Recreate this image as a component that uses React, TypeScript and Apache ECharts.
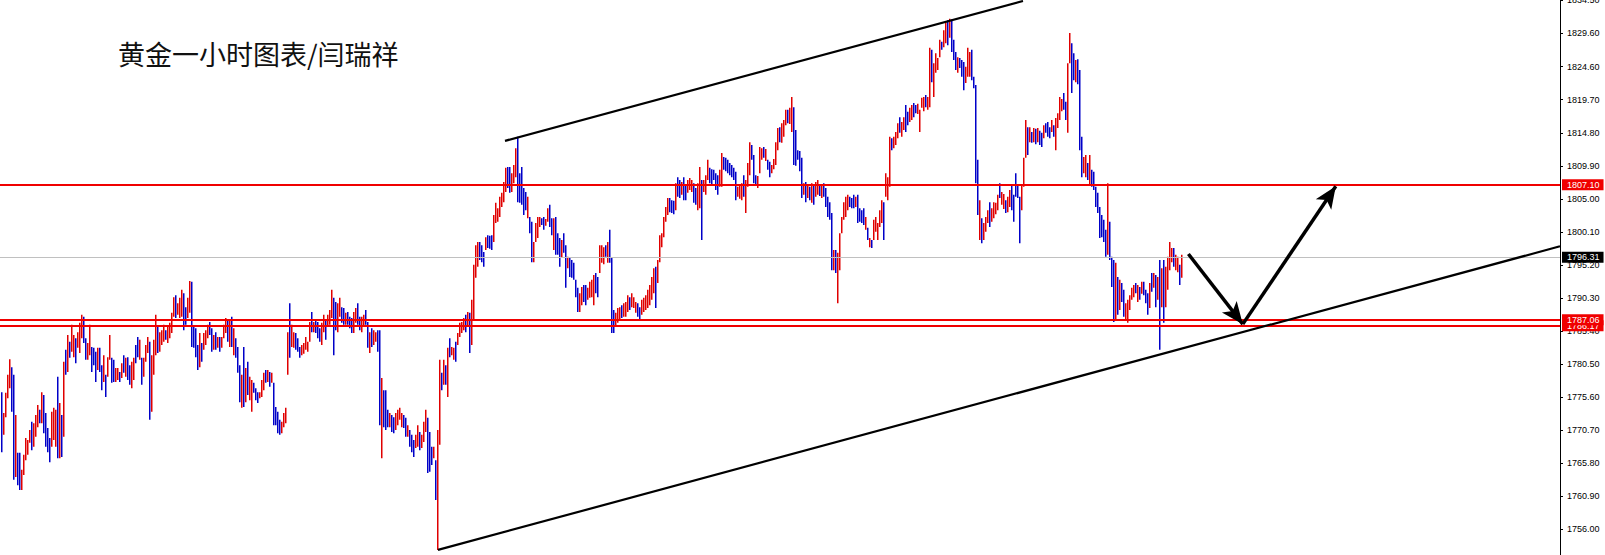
import React, { useEffect, useRef } from "react";
import * as echarts from "echarts";

// ---- Data (hourly gold bars) ----
const HIGH = [
  1776.3, 1773.2, 1776.2, 1778.9, 1781.2, 1780.0, 1778.9, 1772.9, 1767.3, 1767.3,
  1764.8, 1767.0, 1769.5, 1769.2, 1770.7, 1771.9, 1771.7, 1772.9, 1774.4, 1773.7,
  1776.3, 1775.9, 1773.2, 1771.0, 1769.5, 1773.4, 1774.0, 1773.7, 1778.6, 1774.7,
  1772.9, 1780.8, 1782.6, 1784.8, 1783.8, 1786.3, 1784.8, 1784.3, 1785.2, 1786.6,
  1787.8, 1787.5, 1784.3, 1783.6, 1786.3, 1783.0, 1782.9, 1782.3, 1782.9, 1782.9,
  1780.3, 1781.8, 1778.9, 1781.5, 1784.8, 1781.4, 1781.1, 1779.9, 1779.9, 1779.3,
  1780.6, 1781.8, 1781.4, 1781.5, 1780.3, 1780.8, 1781.4, 1783.3, 1784.5, 1784.1,
  1781.4, 1781.4, 1783.3, 1784.5, 1783.8, 1781.8, 1784.1, 1787.8, 1786.0, 1785.2,
  1785.5, 1786.3, 1785.5, 1786.0, 1786.6, 1788.1, 1790.4, 1790.7, 1789.5, 1790.3,
  1791.5, 1791.0, 1788.9, 1790.3, 1792.8, 1792.7, 1786.0, 1785.8, 1783.3, 1785.1,
  1783.6, 1785.1, 1785.5, 1786.3, 1786.7, 1785.8, 1784.8, 1785.2, 1784.5, 1784.5,
  1784.5, 1786.3, 1787.3, 1787.0, 1787.0, 1787.5, 1785.8, 1784.3, 1783.0, 1780.3,
  1778.9, 1783.0, 1779.9, 1780.8, 1778.6, 1778.1, 1777.7, 1776.9, 1776.3, 1776.3,
  1778.1, 1779.2, 1779.6, 1779.6, 1779.3, 1779.2, 1777.7, 1774.1, 1773.4, 1772.2,
  1771.9, 1773.2, 1774.0, 1785.2, 1789.5, 1786.3, 1785.2, 1785.1, 1784.3, 1783.0,
  1783.3, 1783.6, 1784.5, 1783.8, 1786.7, 1788.2, 1786.7, 1787.0, 1786.7, 1785.8,
  1786.6, 1787.8, 1787.0, 1787.8, 1788.5, 1791.5, 1790.3, 1789.7, 1789.5, 1790.3,
  1788.9, 1788.8, 1788.1, 1788.2, 1787.5, 1787.3, 1788.2, 1788.8, 1789.5, 1787.5,
  1787.5, 1787.8, 1788.5, 1786.7, 1785.2, 1785.8, 1785.5, 1785.2, 1785.5, 1785.5,
  1778.4, 1776.6, 1776.6, 1773.7, 1773.2, 1772.9, 1772.6, 1773.2, 1773.7, 1774.0,
  1773.2, 1772.9, 1772.5, 1771.4, 1770.7, 1770.0, 1769.2, 1770.0, 1771.4, 1770.4,
  1770.0, 1771.9, 1773.7, 1772.5, 1770.4, 1768.2, 1768.2, 1766.2, 1770.7, 1781.1,
  1779.2, 1781.1, 1780.3, 1782.9, 1784.3, 1783.0, 1782.9, 1783.8, 1785.1, 1786.6,
  1786.7, 1787.3, 1787.8, 1788.2, 1788.1, 1790.0, 1795.2, 1798.1, 1798.6, 1798.6,
  1798.1, 1797.1, 1799.3, 1799.6, 1799.5, 1799.6, 1802.6, 1804.4, 1803.6, 1805.3,
  1805.9, 1807.5, 1809.6, 1809.7, 1809.7, 1808.8, 1810.0, 1812.5, 1814.2, 1808.8,
  1809.7, 1806.6, 1806.0, 1805.3, 1802.3, 1801.6, 1798.6, 1801.4, 1802.3, 1802.3,
  1802.1, 1802.3, 1802.0, 1803.6, 1804.1, 1802.1, 1802.1, 1802.3, 1799.9, 1799.2,
  1798.9, 1799.9, 1798.1, 1796.4, 1796.2, 1795.9, 1795.5, 1793.0, 1791.8, 1791.0,
  1791.9, 1792.2, 1792.2, 1791.8, 1792.7, 1793.0, 1793.7, 1794.0, 1793.4, 1798.1,
  1798.1, 1797.8, 1798.1, 1798.6, 1800.4, 1796.2, 1788.5, 1788.1, 1788.8, 1788.9,
  1789.2, 1789.5, 1789.7, 1790.7, 1790.4, 1791.0, 1790.4, 1789.7, 1789.5, 1788.9,
  1790.0, 1790.3, 1790.7, 1791.5, 1792.2, 1793.4, 1794.7, 1794.9, 1795.9, 1799.6,
  1799.9, 1802.3, 1803.8, 1805.1, 1805.1, 1804.8, 1804.7, 1807.3, 1808.2, 1807.8,
  1807.5, 1808.2, 1807.0, 1807.8, 1808.1, 1807.8, 1807.3, 1806.6, 1807.3, 1809.7,
  1807.8, 1807.8, 1808.5, 1810.8, 1809.6, 1809.4, 1809.3, 1808.8, 1808.5, 1809.3,
  1811.8, 1811.2, 1811.1, 1810.8, 1810.3, 1810.0, 1809.6, 1809.0, 1806.8, 1806.9,
  1807.3, 1808.5, 1807.8, 1810.3, 1813.4, 1813.0, 1811.5, 1808.5, 1808.4, 1812.7,
  1812.5, 1812.7, 1812.4, 1810.8, 1810.5, 1810.0, 1810.9, 1813.4, 1815.5, 1815.6,
  1816.2, 1816.7, 1818.2, 1818.2, 1818.5, 1820.1, 1818.6, 1815.2, 1812.2, 1812.1,
  1811.1, 1807.3, 1807.5, 1807.0, 1806.8, 1807.3, 1807.0, 1807.5, 1807.8, 1807.2,
  1807.0, 1807.3, 1806.6, 1805.3, 1804.5, 1802.9, 1797.4, 1797.4, 1797.0, 1799.9,
  1802.3, 1804.5, 1805.3, 1805.6, 1805.3, 1805.1, 1805.6, 1805.3, 1805.6, 1803.6,
  1803.3, 1803.6, 1802.3, 1800.7, 1799.2, 1798.9, 1801.9, 1802.3, 1801.4, 1803.3,
  1804.8, 1804.5, 1808.8, 1808.2, 1814.2, 1814.0, 1814.2, 1814.9, 1816.2, 1817.1,
  1816.4, 1817.1, 1818.9, 1817.9, 1818.5, 1818.9, 1819.2, 1818.9, 1819.1, 1818.2,
  1820.0, 1820.1, 1820.4, 1820.1, 1827.4, 1827.1, 1825.1, 1826.6, 1825.9, 1828.6,
  1828.3, 1830.0, 1831.2, 1831.5, 1831.7, 1831.6, 1828.6, 1826.8, 1826.0, 1825.9,
  1825.6, 1825.3, 1824.6, 1827.4, 1826.8, 1827.1, 1823.1, 1821.9, 1810.8, 1804.8,
  1802.1, 1801.4, 1802.3, 1803.3, 1804.5, 1803.6, 1804.5, 1804.4, 1805.6, 1807.3,
  1806.0, 1805.7, 1804.8, 1805.3, 1806.3, 1807.0, 1805.6, 1808.8, 1807.2, 1805.3,
  1807.0, 1811.1, 1816.7, 1815.6, 1815.6, 1814.9, 1815.5, 1815.4, 1815.5, 1815.1,
  1814.8, 1815.9, 1816.2, 1816.4, 1815.6, 1816.7, 1815.9, 1817.0, 1817.7, 1820.1,
  1819.8, 1820.7, 1819.4, 1825.1, 1829.6, 1828.1, 1826.6, 1825.6, 1825.7, 1824.1,
  1814.2, 1811.2, 1811.5, 1810.3, 1811.5, 1809.3, 1809.0, 1806.8, 1805.9, 1803.8,
  1802.6, 1801.9, 1800.4, 1807.3, 1801.6, 1796.4, 1795.9, 1795.5, 1793.4, 1793.0,
  1792.5, 1791.5, 1789.5, 1790.0, 1790.7, 1791.8, 1792.2, 1792.5, 1792.2, 1791.9,
  1792.7, 1792.7, 1791.5, 1791.0, 1792.5, 1794.0, 1794.0, 1793.7, 1793.4, 1795.9,
  1794.7, 1795.9, 1794.9, 1796.4, 1798.6, 1797.7, 1797.7, 1796.7, 1796.4, 1795.2,
  1796.7,
];

const LOW = [
  1767.4, 1770.0, 1772.6, 1775.4, 1776.9, 1773.4, 1763.3, 1763.7, 1762.5, 1761.8,
  1761.8, 1764.0, 1766.2, 1767.0, 1768.8, 1767.7, 1768.2, 1769.7, 1771.1, 1771.7,
  1771.7, 1770.2, 1768.2, 1767.4, 1765.9, 1768.2, 1769.2, 1768.2, 1766.5, 1766.5,
  1766.7, 1769.7, 1778.9, 1779.3, 1781.4, 1782.3, 1781.5, 1780.6, 1782.9, 1782.1,
  1784.3, 1783.6, 1781.1, 1781.1, 1781.8, 1779.3, 1780.3, 1777.8, 1779.6, 1779.3,
  1776.6, 1777.8, 1775.6, 1778.6, 1781.1, 1777.7, 1777.8, 1777.8, 1778.1, 1777.8,
  1778.4, 1779.2, 1778.6, 1778.1, 1777.4, 1776.9, 1778.1, 1780.6, 1781.5, 1781.1,
  1777.4, 1778.6, 1780.8, 1782.1, 1772.2, 1773.4, 1778.9, 1781.8, 1782.1, 1782.3,
  1783.3, 1783.8, 1784.1, 1783.6, 1784.3, 1785.1, 1787.5, 1787.3, 1787.8, 1787.3,
  1787.5, 1785.5, 1786.3, 1787.3, 1788.1, 1783.0, 1782.9, 1781.5, 1779.6, 1780.0,
  1780.8, 1782.6, 1783.3, 1784.3, 1784.8, 1782.3, 1782.6, 1782.6, 1782.9, 1782.3,
  1782.9, 1784.3, 1785.1, 1783.8, 1783.0, 1783.0, 1781.8, 1781.4, 1779.2, 1774.8,
  1774.0, 1774.1, 1774.8, 1775.9, 1775.1, 1773.4, 1776.2, 1775.1, 1774.7, 1775.4,
  1775.6, 1776.6, 1777.7, 1777.8, 1777.1, 1777.7, 1771.4, 1771.4, 1770.2, 1770.0,
  1770.2, 1771.1, 1771.7, 1778.9, 1781.4, 1783.0, 1782.9, 1782.6, 1782.3, 1781.4,
  1781.8, 1782.0, 1782.6, 1782.3, 1783.8, 1785.2, 1785.2, 1785.1, 1784.3, 1783.8,
  1783.3, 1785.2, 1784.1, 1786.0, 1786.3, 1787.3, 1781.8, 1785.5, 1785.2, 1787.5,
  1786.6, 1786.3, 1786.3, 1786.3, 1785.8, 1785.1, 1785.1, 1786.6, 1786.3, 1785.5,
  1785.2, 1786.0, 1786.3, 1782.9, 1782.1, 1783.0, 1783.3, 1783.8, 1782.3, 1771.4,
  1766.5, 1771.1, 1770.7, 1771.1, 1771.1, 1770.4, 1770.2, 1770.7, 1771.4, 1772.2,
  1771.1, 1771.0, 1769.7, 1769.7, 1768.2, 1767.4, 1766.7, 1768.0, 1768.2, 1767.7,
  1768.0, 1768.9, 1770.4, 1764.3, 1764.5, 1765.5, 1766.5, 1760.3, 1752.9, 1768.5,
  1776.6, 1777.4, 1777.4, 1775.6, 1781.5, 1781.8, 1781.1, 1780.8, 1783.3, 1784.5,
  1785.1, 1785.5, 1785.2, 1786.0, 1782.1, 1783.3, 1787.0, 1793.3, 1794.9, 1795.9,
  1795.6, 1794.9, 1797.4, 1797.7, 1797.6, 1797.4, 1798.6, 1801.4, 1801.6, 1802.3,
  1803.8, 1804.5, 1806.0, 1806.6, 1805.9, 1806.0, 1807.3, 1808.2, 1804.5, 1804.4,
  1804.1, 1802.6, 1803.3, 1802.1, 1799.9, 1795.6, 1795.6, 1798.6, 1799.2, 1800.8,
  1801.1, 1800.4, 1801.0, 1801.6, 1800.8, 1799.6, 1797.4, 1796.7, 1796.7, 1794.9,
  1796.2, 1797.0, 1791.8, 1794.7, 1793.4, 1793.3, 1793.0, 1790.4, 1788.2, 1788.2,
  1789.2, 1789.7, 1789.2, 1790.0, 1790.3, 1790.4, 1789.2, 1791.0, 1790.4, 1794.0,
  1795.5, 1795.3, 1796.4, 1795.5, 1795.5, 1785.1, 1785.1, 1786.0, 1786.6, 1787.0,
  1787.3, 1787.5, 1787.5, 1788.2, 1788.5, 1788.9, 1788.8, 1788.1, 1787.5, 1787.0,
  1787.8, 1788.2, 1788.5, 1788.8, 1789.2, 1790.0, 1791.0, 1788.8, 1792.5, 1795.6,
  1797.8, 1799.3, 1801.6, 1802.6, 1803.0, 1802.9, 1802.7, 1803.3, 1805.3, 1805.1,
  1805.6, 1804.8, 1804.8, 1805.9, 1806.3, 1806.0, 1804.4, 1804.1, 1803.3, 1803.6,
  1798.9, 1806.0, 1805.6, 1807.8, 1807.3, 1807.2, 1807.8, 1806.3, 1805.6, 1806.8,
  1806.8, 1809.3, 1809.1, 1808.8, 1808.5, 1808.2, 1807.8, 1804.8, 1805.3, 1805.0,
  1804.8, 1805.3, 1802.9, 1806.8, 1808.5, 1810.8, 1807.3, 1807.0, 1806.6, 1808.8,
  1810.8, 1811.1, 1810.6, 1809.3, 1808.2, 1808.8, 1809.4, 1810.0, 1812.2, 1813.4,
  1813.3, 1814.2, 1815.9, 1816.2, 1816.1, 1814.9, 1810.0, 1809.9, 1810.8, 1809.1,
  1805.1, 1805.6, 1804.5, 1805.1, 1804.8, 1804.4, 1804.1, 1805.3, 1805.6, 1805.4,
  1805.1, 1805.3, 1803.8, 1802.3, 1801.9, 1794.4, 1794.4, 1794.0, 1789.5, 1794.4,
  1799.9, 1801.9, 1802.3, 1803.3, 1803.8, 1803.6, 1803.6, 1803.8, 1801.4, 1801.6,
  1801.4, 1801.1, 1800.4, 1798.9, 1797.8, 1797.7, 1798.9, 1800.1, 1798.9, 1800.8,
  1801.4, 1798.9, 1805.3, 1804.8, 1806.8, 1812.2, 1812.5, 1813.0, 1814.0, 1814.8,
  1814.2, 1815.2, 1814.9, 1815.9, 1816.4, 1816.7, 1817.1, 1817.7, 1817.6, 1814.9,
  1818.5, 1818.0, 1818.6, 1818.2, 1818.6, 1822.3, 1820.1, 1823.7, 1824.1, 1826.0,
  1827.1, 1827.5, 1828.1, 1827.8, 1828.9, 1826.8, 1825.6, 1824.1, 1823.7, 1824.4,
  1823.1, 1821.1, 1822.2, 1823.1, 1823.1, 1822.6, 1821.4, 1807.3, 1802.6, 1798.9,
  1798.4, 1798.9, 1800.1, 1801.4, 1800.8, 1801.6, 1802.1, 1802.7, 1803.3, 1805.1,
  1804.1, 1803.5, 1802.9, 1803.0, 1803.8, 1803.3, 1801.6, 1805.3, 1805.1, 1798.4,
  1803.3, 1806.8, 1811.1, 1811.5, 1813.4, 1813.3, 1813.4, 1813.1, 1813.4, 1813.0,
  1812.7, 1814.0, 1814.8, 1814.2, 1814.0, 1814.9, 1814.2, 1812.2, 1815.5, 1816.7,
  1818.0, 1818.2, 1816.7, 1814.8, 1825.1, 1820.7, 1822.6, 1822.3, 1822.0, 1812.2,
  1808.2, 1808.8, 1808.2, 1807.8, 1807.0, 1806.8, 1806.3, 1803.8, 1802.9, 1799.2,
  1799.3, 1798.6, 1796.4, 1796.7, 1795.9, 1791.9, 1786.7, 1787.0, 1787.8, 1788.5,
  1789.7, 1787.5, 1787.0, 1786.6, 1788.5, 1790.0, 1790.4, 1791.0, 1789.7, 1790.0,
  1790.9, 1790.7, 1789.5, 1787.8, 1788.8, 1791.2, 1791.8, 1788.9, 1790.0, 1782.6,
  1788.9, 1786.6, 1788.9, 1791.5, 1794.4, 1795.6, 1794.9, 1794.4, 1794.1, 1792.2,
  1793.3,
];

// u = bar closed higher (red), d = bar closed lower (blue)
const DIRECTION = [
  "duuuuddudd", "uuuuuduuud", "udddduuudu", "dududuuduu", "udduudddud",
  "duduudduud", "ududduuddu", "duuuduuudu", "uuduuuuduu", "udduuddddu",
  "duuuddudud", "uuudududdd", "ududuudddu", "uudududddd", "uuuuduuddd",
  "uuuuududdd", "uuduuudduu", "dduddduudd", "uudduduudd", "udddudduuu",
  "udduddduud", "uuuddduduu", "dududuuduu", "uududuuuud", "dduddduuuu",
  "uuudduuudd", "dddudduuuu", "dduudduddd", "uddudddddu", "udduuuuddu",
  "uududdduuu", "duuuduuudd", "uuuuuuuduu", "uuuudddudd", "udduuudduu",
  "duuudddddu", "uddddddduu", "uduuuddduu", "ududduuuud", "uuuduudddd",
  "dudududuud", "uddddduduu", "uuuudddudd", "ddududuuuu", "uduuuduuud",
  "uudduudduu", "uuduuduuuu", "duududddud", "dduuuddddu", "duuuduuuud",
  "uuduuddddd", "uuudududud", "duddduduuu", "udduuddudd", "duududdddd",
  "dddudddudu", "dduuuuudud", "udddududud", "uduuuuduud", "u",
].join("");

const PRICE_TICKS = [
  1756.0, 1760.9, 1765.8, 1770.7, 1775.6, 1780.5, 1785.4, 1790.3, 1795.2,
  1800.1, 1805.0, 1809.9, 1814.8, 1819.7, 1824.6, 1829.6, 1834.5,
];

const RESISTANCE = 1807.1;
const SUPPORT_UPPER = 1787.06;
const SUPPORT_LOWER = 1786.17;
const LAST_PRICE = 1796.31;

// [bar index, price]
const UPPER_CHANNEL = [[251.5, 1813.6], [510.5, 1834.35]];
const LOWER_CHANNEL = [[218, 1752.9], [779, 1797.95]];
const ARROW_DOWN = [[593.2, 1796.8], [620.4, 1786.4]];
const ARROW_UP = [[620.4, 1786.4], [666.9, 1806.85]];

const TITLE = "黄金一小时图表/闫瑞祥";

const UP_COLOR = "#e00000";
const DOWN_COLOR = "#0000c8";
const LEVEL_RED = "#f00000";
const AXIS_FONT = "Tahoma, 'Liberation Sans', Arial, sans-serif";

export default function App() {
  const ref = useRef<HTMLDivElement | null>(null);

  useEffect(() => {
    if (!ref.current) return;
    const chart = echarts.init(ref.current, null, { renderer: "svg" });

    const bars = HIGH.map((h, i) => [i, h, LOW[i], DIRECTION[i] === "u" ? 1 : 0]);

    const levelLabel = (bg: string) => ({
      show: true,
      position: "end",
      distance: 2,
      color: "#fff",
      backgroundColor: bg,
      fontSize: 9,
      fontFamily: AXIS_FONT,
      lineHeight: 10,
      padding: [1, 4, 0, 5],
      formatter: (p: any) => Number(p.value).toFixed(2),
    });

    const arrowEnd = (coord: number[]) => ({
      coord,
      symbol: "arrow",
      symbolSize: [14, 22],
      lineStyle: { color: "#000", width: 3.5, type: "solid" },
      itemStyle: { color: "#000" },
      label: { show: false },
    });

    const option: any = {
      animation: false,
      textStyle: { fontFamily: AXIS_FONT },
      grid: {
        left: 0,
        right: 45,
        top: 0,
        bottom: 0,
        containLabel: false,
        outerBoundsMode: "none",
      },
      xAxis: {
        type: "value",
        min: -1,
        max: 779,
        show: false,
      },
      yAxis: {
        type: "value",
        position: "right",
        min: 1752.14,
        max: 1834.5,
        scale: true,
        splitLine: { show: false },
        axisLine: { show: true, onZero: false, lineStyle: { color: "#000", width: 1 } },
        axisTick: {
          show: true,
          inside: false,
          length: 3,
          lineStyle: { color: "#000" },
          customValues: PRICE_TICKS,
        },
        axisLabel: {
          show: true,
          margin: 7,
          color: "#000",
          fontSize: 9,
          fontFamily: AXIS_FONT,
          customValues: PRICE_TICKS,
          formatter: (v: number) => v.toFixed(2),
        },
      },
      graphic: [
        {
          type: "text",
          left: 118,
          top: 40,
          style: {
            text: TITLE,
            fontSize: 27,
            fontFamily: "'Noto Sans CJK SC', sans-serif",
            fill: "#111",
          },
        },
      ],
      series: [
        {
          type: "custom",
          name: "bars",
          data: bars,
          encode: { x: 0, y: [1, 2] },
          clip: true,
          silent: true,
          z: 2,
          renderItem: (params: any, api: any) => {
            const i = api.value(0);
            const top = api.coord([i, api.value(1)]);
            const bot = api.coord([i, api.value(2)]);
            return {
              type: "rect",
              shape: {
                x: top[0] - 1,
                y: top[1],
                width: 1.5,
                height: Math.max(1, bot[1] - top[1]),
              },
              style: { fill: api.value(3) ? UP_COLOR : DOWN_COLOR },
            };
          },
        },
        {
          type: "line",
          name: "upper channel",
          data: UPPER_CHANNEL,
          showSymbol: false,
          symbol: "none",
          silent: true,
          z: 4,
          lineStyle: { color: "#000", width: 2.2 },
        },
        {
          type: "line",
          name: "lower channel",
          data: LOWER_CHANNEL,
          showSymbol: false,
          symbol: "none",
          silent: true,
          z: 5,
          lineStyle: { color: "#000", width: 2.2 },
          markLine: {
            silent: true,
            symbol: ["none", "none"],
            animation: false,
            data: [
              {
                yAxis: LAST_PRICE,
                lineStyle: { color: "#c0c0c0", width: 1, type: "solid" },
                label: levelLabel("#000"),
              },
              {
                yAxis: SUPPORT_LOWER,
                lineStyle: { color: LEVEL_RED, width: 2, type: "solid" },
                label: levelLabel(LEVEL_RED),
              },
              {
                yAxis: SUPPORT_UPPER,
                lineStyle: { color: LEVEL_RED, width: 2, type: "solid" },
                label: levelLabel(LEVEL_RED),
              },
              {
                yAxis: RESISTANCE,
                lineStyle: { color: LEVEL_RED, width: 2, type: "solid" },
                label: levelLabel(LEVEL_RED),
              },
              [{ coord: ARROW_DOWN[0], symbol: "none" }, arrowEnd(ARROW_DOWN[1])],
              [{ coord: ARROW_UP[0], symbol: "none" }, arrowEnd(ARROW_UP[1])],
            ],
          },
        },
      ],
    };

    chart.setOption(option);
    return () => chart.dispose();
  }, []);

  return (
    <div
      ref={ref}
      style={{ position: "fixed", left: 0, top: 0, width: 1605, height: 555, background: "#fff" }}
    />
  );
}
